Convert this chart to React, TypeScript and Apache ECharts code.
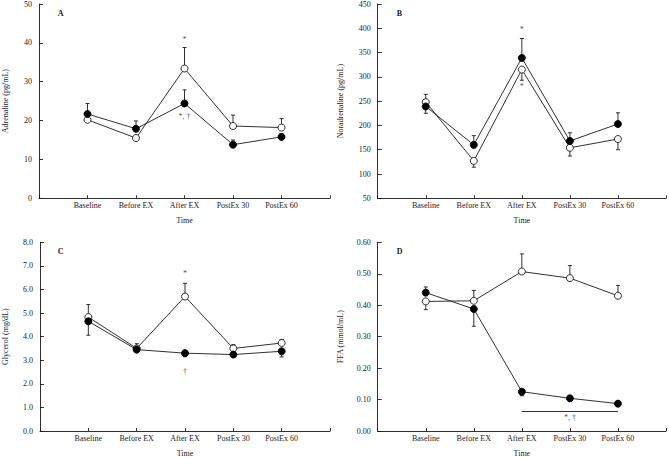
import React, { useEffect, useRef } from "react";
import * as echarts from "echarts";

const categories = ["", "Baseline", "Before EX", "After EX", "PostEx 30", "PostEx 60", ""];

const adrenalineFilled = [21.7, 17.9, 24.4, 13.8, 15.8];
const adrenalineFilledErr = [24.4, 19.9, 27.9, 15.0, 16.5];
const adrenalineOpen = [20.2, 15.5, 33.4, 18.6, 18.2];
const adrenalineOpenErr = [20.2, 15.5, 38.8, 21.4, 20.5];

const noradFilled = [239, 160, 339, 168, 203];
const noradFilledErr = [264, 179, 379, 185, 226];
const noradOpen = [248, 127, 315, 154, 172];
const noradOpenErr = [225, 114, 293, 137, 150];

const glycerolFilled = [4.65, 3.45, 3.3, 3.24, 3.38];
const glycerolFilledErr = [4.06, 3.4, 3.15, 3.18, 3.14];
const glycerolOpen = [4.83, 3.5, 5.7, 3.5, 3.73];
const glycerolOpenErr = [5.36, 3.7, 6.26, 3.66, 3.88];

const ffaFilled = [0.44, 0.388, 0.125, 0.104, 0.087];
const ffaFilledErr = [0.458, 0.333, 0.112, 0.096, 0.082];
const ffaOpen = [0.412, 0.414, 0.507, 0.486, 0.43];
const ffaOpenErr = [0.386, 0.447, 0.563, 0.526, 0.463];

const annotA: [number, number, string][] = [[3, 40.9, "*"], [3, 21.1, "*, †"]];
const annotB: [number, number, string][] = [[3, 398, "*"], [3, 281, "*"]];
const annotC: [number, number, string][] = [[3, 6.67, "*"], [3, 2.52, "†"]];
const annotD: [number, number, string][] = [[4, 0.044, "*, †"]];
const ffaSigLine = { from: 3, to: 5, value: 0.062 };

const FONT = "Liberation Serif";
const INK = "#1a1a1a";

const panels = [
  { letter: "A", name: "Adrenaline (pg/mL)", min: 0, max: 50, interval: 10, dec: 0, gap: 30,
    filled: adrenalineFilled, filledErr: adrenalineFilledErr, open: adrenalineOpen, openErr: adrenalineOpenErr, annot: annotA,
    grid: { left: 38.7, top: 4, width: 291.3, height: 194.3 } },
  { letter: "B", name: "Noradrenaline (pg/mL)", min: 50, max: 450, interval: 50, dec: 0, gap: 33,
    filled: noradFilled, filledErr: noradFilledErr, open: noradOpen, openErr: noradOpenErr, annot: annotB,
    grid: { left: 377.7, top: 4, width: 290, height: 194.3 } },
  { letter: "C", name: "Glycerol (mg/dL)", min: 0, max: 8, interval: 1, dec: 1, gap: 31,
    filled: glycerolFilled, filledErr: glycerolFilledErr, open: glycerolOpen, openErr: glycerolOpenErr, annot: annotC,
    grid: { left: 38.7, top: 242.3, width: 291.3, height: 193.7 } },
  { letter: "D", name: "FFA (mmol/mL)", min: 0, max: 0.6, interval: 0.1, dec: 2, gap: 33,
    filled: ffaFilled, filledErr: ffaFilledErr, open: ffaOpen, openErr: ffaOpenErr, annot: annotD,
    grid: { left: 377.7, top: 242.3, width: 290, height: 193.7 } },
];

function errRender(params: any, api: any) {
  const x = api.value(0);
  const p = api.coord([x, api.value(1)]);
  const e = api.coord([x, api.value(2)]);
  if (Math.abs(p[1] - e[1]) < 0.5) return null;
  const style = { stroke: INK, lineWidth: 0.9 };
  return {
    type: "group",
    children: [
      { type: "line", shape: { x1: p[0], y1: p[1], x2: e[0], y2: e[1] }, style },
      { type: "line", shape: { x1: e[0] - 2, y1: e[1], x2: e[0] + 2, y2: e[1] }, style },
    ],
  };
}

export default function App() {
  const ref = useRef<HTMLDivElement>(null);
  useEffect(() => {
    document.body.style.margin = "0";
    const chart = echarts.init(ref.current!, null, { renderer: "svg" });
    const grid: any[] = [];
    const xAxis: any[] = [];
    const yAxis: any[] = [];
    const series: any[] = [];
    const title: any[] = [];
    panels.forEach((p, i) => {
      grid.push({ ...p.grid, containLabel: false });
      xAxis.push({
        type: "category", gridIndex: i, data: categories, boundaryGap: false,
        name: "Time", nameLocation: "middle", nameGap: 18,
        nameTextStyle: { fontFamily: FONT, fontSize: 8, color: INK },
        axisLine: { lineStyle: { color: INK, width: 0.9 } },
        axisTick: { show: true, inside: true, length: 3, interval: 0, lineStyle: { color: INK, width: 0.9 } },
        axisLabel: { interval: 0, fontFamily: FONT, fontSize: 8, color: INK, margin: 3 },
        splitLine: { show: false },
      });
      yAxis.push({
        type: "value", gridIndex: i, min: p.min, max: p.max, interval: p.interval,
        name: p.name, nameLocation: "middle", nameRotate: 90, nameGap: p.gap,
        nameTextStyle: { fontFamily: FONT, fontSize: 8, color: INK },
        axisLine: { show: true, lineStyle: { color: INK, width: 0.9 } },
        axisTick: { show: true, inside: true, length: 4, lineStyle: { color: INK, width: 0.9 } },
        axisLabel: { fontFamily: FONT, fontSize: 8, color: INK, margin: 7,
          formatter: (v: number) => v.toFixed(p.dec) },
        splitLine: { show: false },
      });
      title.push({ text: p.letter, left: p.grid.left + 19, top: p.grid.top + 5, padding: 0,
        textStyle: { fontFamily: FONT, fontSize: 8, fontWeight: "bold", color: INK } });
      const toPts = (arr: number[]) => arr.map((v, k) => [k + 1, v]);
      const toErr = (vals: number[], ends: number[]) => vals.map((v, k) => [k + 1, v, ends[k]]);
      series.push({
        type: "custom", xAxisIndex: i, yAxisIndex: i, renderItem: errRender, z: 1,
        data: toErr(p.open, p.openErr), silent: true,
      });
      series.push({
        type: "custom", xAxisIndex: i, yAxisIndex: i, renderItem: errRender, z: 1,
        data: toErr(p.filled, p.filledErr), silent: true,
      });
      series.push({
        type: "line", xAxisIndex: i, yAxisIndex: i, data: toPts(p.open), z: 3,
        symbol: "circle", symbolSize: 7,
        lineStyle: { color: INK, width: 0.9 },
        itemStyle: { color: "#fff", borderColor: INK, borderWidth: 0.9 },
      });
      const fl: any = {
        type: "line", xAxisIndex: i, yAxisIndex: i, data: toPts(p.filled), z: 4,
        symbol: "circle", symbolSize: 7,
        lineStyle: { color: INK, width: 0.9 },
        itemStyle: { color: "#000", borderColor: "#000", borderWidth: 0.9 },
      };
      if (p.letter === "D") {
        fl.markLine = {
          silent: true, symbol: ["none", "none"], label: { show: false },
          lineStyle: { color: INK, width: 0.9, type: "solid" },
          data: [[{ coord: [ffaSigLine.from, ffaSigLine.value] }, { coord: [ffaSigLine.to, ffaSigLine.value] }]],
        };
      }
      series.push(fl);
      series.push({
        type: "scatter", xAxisIndex: i, yAxisIndex: i, symbolSize: 0, z: 5, silent: true,
        itemStyle: { color: INK },
        data: p.annot.map((a) => ({ value: [a[0], a[1]], name: a[2] })),
        label: { show: true, position: "inside", formatter: (d: any) => d.name,
          fontFamily: FONT, fontSize: 8, color: INK, textBorderWidth: 0, textBorderColor: "transparent" },
      });
    });
    chart.setOption({ animation: false, backgroundColor: "#fff", title, grid, xAxis, yAxis, series });
    return () => chart.dispose();
  }, []);
  return <div ref={ref} style={{ width: 669, height: 458 }} />;
}
